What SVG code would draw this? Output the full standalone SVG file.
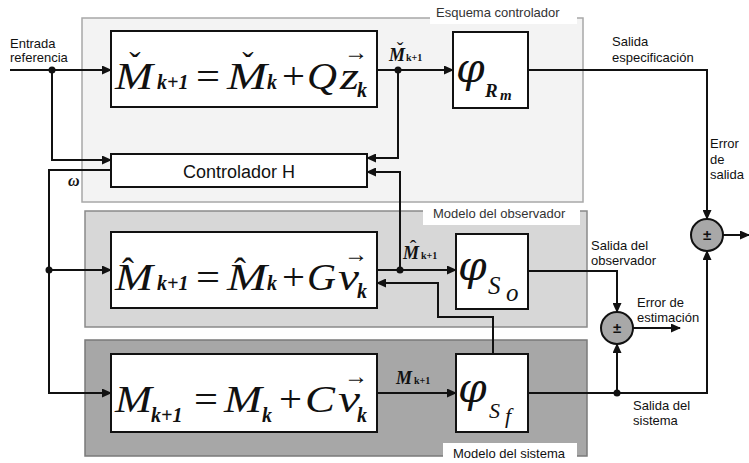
<svg xmlns="http://www.w3.org/2000/svg" width="749" height="463" viewBox="0 0 749 463">
<style>
.panel{stroke-width:1.5}
.box{fill:#fff;stroke:#111;stroke-width:2}
.ln{fill:none;stroke:#111;stroke-width:2}
.lbl{font-family:"Liberation Sans",Arial,sans-serif;font-size:13px;fill:#111}
.plbl{font-family:"Liberation Sans",Arial,sans-serif;font-size:13px;fill:#333}
.eq{font-family:"Liberation Serif","Times New Roman",serif;font-style:italic;font-size:38px;fill:#111}
.op{font-family:"Liberation Serif","Times New Roman",serif;font-style:normal;font-size:38px;fill:#111}
.sub{font-family:"Liberation Serif","Times New Roman",serif;font-style:italic;font-weight:bold;font-size:20px;fill:#111}
.acc{font-family:"Liberation Serif","Times New Roman",serif;font-size:34px;fill:#111;text-anchor:middle}
.arr{font-family:"Liberation Serif","Times New Roman",serif;font-size:24px;fill:#111;text-anchor:middle}
.sm{font-family:"Liberation Serif","Times New Roman",serif;font-style:italic;font-weight:bold;font-size:18px;fill:#111}
.smsub{font-family:"Liberation Serif","Times New Roman",serif;font-weight:bold;font-size:10px;fill:#111}
.phi{font-family:"DejaVu Serif",serif;font-style:italic;font-size:41px;fill:#111}
.sum{fill:#a8a8a8;stroke:#111;stroke-width:2}
.pm{font-family:"Liberation Sans",Arial,sans-serif;font-weight:bold;font-size:15px;fill:#111;text-anchor:middle}
.dot{fill:#111}
</style>
<defs>
<marker id="ah" markerUnits="userSpaceOnUse" markerWidth="10" markerHeight="9" refX="9" refY="4.5" orient="auto">
<path d="M0,0 L10,4.5 L0,9 z" fill="#111"/>
</marker>
</defs>

<g id="panels">
<g id="panel-controlador">
<rect class="panel" x="82" y="18" width="501" height="184" fill="#f3f3f3" stroke="#a8a8a8"/>
<rect x="430" y="4" width="147" height="20" fill="#fff"/>
<text class="plbl" x="436" y="17">Esquema controlador</text>
</g>
<g id="panel-observador">
<rect class="panel" x="85" y="211" width="502" height="116" fill="#d7d7d7" stroke="#8a8a8a"/>
<rect x="423" y="203" width="157" height="22" fill="#fff"/>
<text class="plbl" x="433" y="218">Modelo del observador</text>
</g>
<g id="panel-sistema">
<rect class="panel" x="85" y="340" width="502" height="116" fill="#a7a7a7" stroke="#7a7a7a"/>
<rect x="443" y="443" width="134" height="20" fill="#fff"/>
<text class="plbl" x="453" y="458" style="fill:#111">Modelo del sistema</text>
</g>
</g>

<g id="connectors">
<path class="ln" d="M10,70 L111,70" marker-end="url(#ah)"/>
<path class="ln" d="M52,70 L52,160 L111,160" marker-end="url(#ah)"/>
<path class="ln" d="M111,170 L49,170 L49,393 L111,393" marker-end="url(#ah)"/>
<path class="ln" d="M49,270 L111,270" marker-end="url(#ah)"/>
<path class="ln" d="M377,70 L453,70" marker-end="url(#ah)"/>
<path class="ln" d="M398,70 L398,158 L367,158" marker-end="url(#ah)"/>
<path class="ln" d="M377,270 L456,270" marker-end="url(#ah)"/>
<path class="ln" d="M400,270 L400,172 L367,172" marker-end="url(#ah)"/>
<path class="ln" d="M493,354 L493,317 L438,317 L438,283 L377,283" marker-end="url(#ah)"/>
<path class="ln" d="M377,393 L456,393" marker-end="url(#ah)"/>
<path class="ln" d="M528,70 L707,70 L707,219" marker-end="url(#ah)"/>
<path class="ln" d="M723,235 L749,235" marker-end="url(#ah)"/>
<path class="ln" d="M528,271 L617,271 L617,312" marker-end="url(#ah)"/>
<path class="ln" d="M633,328 L680,328" marker-end="url(#ah)"/>
<path class="ln" d="M528,393 L707,393 L707,251" marker-end="url(#ah)"/>
<path class="ln" d="M617,393 L617,344" marker-end="url(#ah)"/>
<circle class="dot" cx="52" cy="70" r="3.5"/>
<circle class="dot" cx="49" cy="270" r="3.5"/>
<circle class="dot" cx="398" cy="70" r="3.5"/>
<circle class="dot" cx="400" cy="270" r="3.5"/>
<circle class="dot" cx="617" cy="393" r="3.5"/>
<text class="lbl" x="10" y="48">Entrada</text>
<text class="lbl" x="10" y="62">referencia</text>
<text class="sm" x="68" y="186" style="font-size:16px">ω</text>
<text class="sm" x="389" y="61">M</text><text class="smsub" x="406" y="61">k+1</text><text class="acc" x="400" y="57" style="font-size:20px">ˇ</text>
<text class="sm" x="403" y="259">M</text><text class="smsub" x="421" y="259">k+1</text><text class="acc" x="413" y="255" style="font-size:20px">ˆ</text>
<text class="sm" x="396" y="384">M</text><text class="smsub" x="414" y="384">k+1</text>
<text class="lbl" x="612" y="46">Salida</text>
<text class="lbl" x="612" y="62">especificación</text>
<text class="lbl" x="710" y="148">Error</text>
<text class="lbl" x="710" y="164">de</text>
<text class="lbl" x="710" y="179">salida</text>
<text class="lbl" x="591" y="250">Salida del</text>
<text class="lbl" x="591" y="265">observador</text>
<text class="lbl" x="637" y="307">Error de</text>
<text class="lbl" x="637" y="322">estimación</text>
<text class="lbl" x="633" y="410">Salida del</text>
<text class="lbl" x="633" y="425">sistema</text>
</g>

<g id="eq-controlador">
<rect class="box" x="111" y="31" width="266" height="76"/>
<text class="eq" x="115" y="89" textLength="38" lengthAdjust="spacingAndGlyphs">M</text>
<text class="acc" x="135" y="76">ˇ</text>
<text class="sub" x="157" y="89">k+1</text>
<text class="op" x="196" y="89" textLength="24" lengthAdjust="spacingAndGlyphs">=</text>
<text class="eq" x="227" y="89" textLength="40" lengthAdjust="spacingAndGlyphs">M</text>
<text class="acc" x="248" y="76">ˇ</text>
<text class="sub" x="267" y="89">k</text>
<text class="op" x="282" y="89" textLength="23" lengthAdjust="spacingAndGlyphs">+</text>
<text class="eq" x="307" y="89" textLength="30" lengthAdjust="spacingAndGlyphs">Q</text>
<text class="eq" x="340" y="89" textLength="19" lengthAdjust="spacingAndGlyphs">z</text>
<text class="arr" x="356" y="60">→</text>
<text class="sub" x="357" y="97">k</text>
</g>

<g id="phi-Rm">
<rect class="box" x="453" y="32" width="75" height="76"/>
<text class="phi" x="456" y="82">φ</text>
<text class="sub" x="485" y="97" style="font-size:19px">R</text>
<text class="sub" x="500" y="100" style="font-size:15px">m</text>
</g>

<g id="controlador-H">
<rect class="box" x="111" y="154" width="256" height="33"/>
<text class="lbl" x="239" y="178" style="font-size:18px" text-anchor="middle">Controlador H</text>
</g>

<g id="eq-observador">
<rect class="box" x="111" y="232" width="266" height="76"/>
<text class="eq" x="115" y="290" textLength="38" lengthAdjust="spacingAndGlyphs">M</text>
<text class="acc" x="128" y="283" style="font-size:36px">ˆ</text>
<text class="sub" x="157" y="290">k+1</text>
<text class="op" x="196" y="290" textLength="24" lengthAdjust="spacingAndGlyphs">=</text>
<text class="eq" x="227" y="290" textLength="40" lengthAdjust="spacingAndGlyphs">M</text>
<text class="acc" x="240" y="283" style="font-size:36px">ˆ</text>
<text class="sub" x="267" y="290">k</text>
<text class="op" x="282" y="290" textLength="23" lengthAdjust="spacingAndGlyphs">+</text>
<text class="eq" x="307" y="290" textLength="29" lengthAdjust="spacingAndGlyphs">G</text>
<text class="eq" x="338" y="290" textLength="21" lengthAdjust="spacingAndGlyphs">v</text>
<text class="arr" x="356" y="262">→</text>
<text class="sub" x="357" y="298">k</text>
</g>

<g id="phi-So">
<rect class="box" x="456" y="234" width="72" height="75"/>
<text class="phi" x="458" y="280">φ</text>
<text class="eq" x="488" y="294" style="font-size:25px">S</text>
<text class="eq" x="506" y="301" style="font-size:25px">o</text>
</g>

<g id="eq-sistema">
<rect class="box" x="111" y="354" width="266" height="78"/>
<text class="eq" x="115" y="412" textLength="37" lengthAdjust="spacingAndGlyphs">M</text>
<text class="sub" x="151" y="422">k+1</text>
<text class="op" x="194" y="412" textLength="24" lengthAdjust="spacingAndGlyphs">=</text>
<text class="eq" x="224" y="412" textLength="38" lengthAdjust="spacingAndGlyphs">M</text>
<text class="sub" x="262" y="422">k</text>
<text class="op" x="279" y="412" textLength="23" lengthAdjust="spacingAndGlyphs">+</text>
<text class="eq" x="305" y="412" textLength="30" lengthAdjust="spacingAndGlyphs">C</text>
<text class="eq" x="338" y="412" textLength="22" lengthAdjust="spacingAndGlyphs">v</text>
<text class="arr" x="356" y="384">→</text>
<text class="sub" x="357" y="422">k</text>
</g>

<g id="phi-Sf">
<rect class="box" x="456" y="354" width="72" height="78"/>
<text class="phi" x="458" y="402">φ</text>
<text class="eq" x="489" y="418" style="font-size:22px">S</text>
<text class="eq" x="505" y="423" style="font-size:22px">f</text>
</g>

<g id="sum-salida">
<circle class="sum" cx="707" cy="235" r="16"/>
<text class="pm" x="707" y="240">±</text>
</g>
<g id="sum-estimacion">
<circle class="sum" cx="617" cy="328" r="16"/>
<text class="pm" x="617" y="333">±</text>
</g>
</svg>
